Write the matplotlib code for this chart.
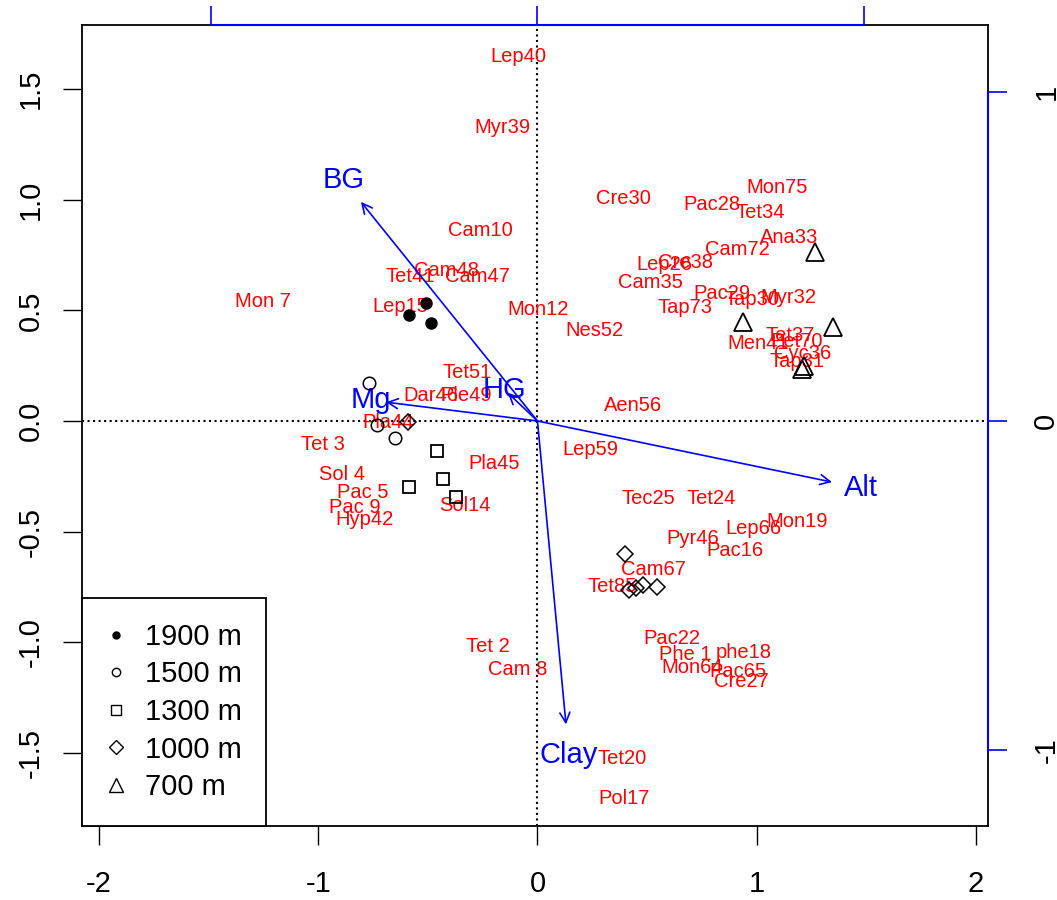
import numpy as np
import matplotlib
matplotlib.use('Agg')
import matplotlib.pyplot as plt
from matplotlib.lines import Line2D
from matplotlib import font_manager

# Font choice (Arial-like)
names = {f.name for f in font_manager.fontManager.ttflist}
fam = 'Liberation Sans' if 'Liberation Sans' in names else 'DejaVu Sans'
plt.rcParams['font.family'] = [fam, 'DejaVu Sans']

# Species scores (red labels)
species = ['Lep40', 'Myr39', 'Cre30', 'Mon75', 'Pac28', 'Tet34', 'Ana33', 'Cam72',
           'Cam10', 'Cam48', 'Tet41', 'Cam47', 'Mon 7', 'Lep15', 'Mon12', 'Nes52',
           'Lep26', 'Cre38', 'Cam35', 'Pac29', 'Tap30', 'Myr32', 'Tap73', 'Men41',
           'Tet37', 'Pet70', 'Cyc36', 'Tap31', 'Tet51', 'Dar46', 'Ple49', 'Pla44',
           'Tet 3', 'Sol 4', 'Pac 5', 'Pac 9', 'Hyp42', 'Pla45', 'Sol14', 'Lep59',
           'Aen56', 'Tec25', 'Tet24', 'Mon19', 'Lep66', 'Pyr46', 'Pac16', 'Cam67',
           'Tet85', 'Pac22', 'Phe 1', 'phe18', 'Mon64', 'Pac65', 'Cre27', 'Tet 2',
           'Cam 8', 'Tet20', 'Pol17']
spX = [-0.089, -0.162, 0.394, 1.092, 0.796, 1.015, 1.147, 0.910,
       -0.262, -0.417, -0.581, -0.276, -1.252, -0.627, 0.002, 0.258,
       0.577, 0.673, 0.513, 0.841, 0.978, 1.142, 0.673, 1.005,
       1.151, 1.183, 1.211, 1.183, -0.321, -0.486, -0.326, -0.682,
       -0.978, -0.892, -0.796, -0.832, -0.791, -0.198, -0.331, 0.239,
       0.435, 0.504, 0.791, 1.183, 0.987, 0.709, 0.901, 0.527,
       0.340, 0.613, 0.673, 0.942, 0.705, 0.914, 0.928, -0.226,
       -0.089, 0.385, 0.394]
spY = [1.645, 1.328, 1.003, 1.057, 0.976, 0.944, 0.831, 0.777,
       0.859, 0.682, 0.655, 0.651, 0.542, 0.515, 0.502, 0.407,
       0.705, 0.718, 0.624, 0.578, 0.547, 0.560, 0.511, 0.348,
       0.384, 0.361, 0.303, 0.267, 0.221, 0.113, 0.117, -0.009,
       -0.108, -0.244, -0.321, -0.393, -0.443, -0.190, -0.380, -0.131,
       0.072, -0.348, -0.348, -0.452, -0.484, -0.529, -0.587, -0.669,
       -0.750, -0.985, -1.057, -1.044, -1.112, -1.134, -1.175, -1.017,
       -1.125, -1.523, -1.704]

# Environmental arrows
envNames = ['BG', 'Mg', 'HG', 'Alt', 'Clay']
envX = [-0.805, -0.69, -0.135, 1.343, 0.130]
envY = [0.99, 0.085, 0.127, -0.276, -1.371]

# Sites grouped by altitude
x1900 = [-0.507, -0.586, -0.486]
y1900 = [0.534, 0.480, 0.443]
x1500 = [-0.768, -0.732, -0.650]
y1500 = [0.172, -0.018, -0.077]
x1300 = [-0.458, -0.431, -0.586, -0.372]
y1300 = [-0.136, -0.262, -0.299, -0.344]
x1000 = [-0.590, 0.399, 0.417, 0.481, 0.545, 0.449]
y1000 = [-0.005, -0.602, -0.765, -0.742, -0.751, -0.756]
x700 = [1.265, 0.937, 1.347, 1.215, 1.206]
y700 = [0.765, 0.448, 0.425, 0.249, 0.235]

legLabels = ['1900 m', '1500 m', '1300 m', '1000 m', '700 m']

# Plot
fig = plt.figure(figsize=(10.57, 9), dpi=100)
ax = fig.add_axes([0.0776, 0.0822, 0.857, 0.89])
xl = (-2.077, 2.054)
yl = (-1.830, 1.789)
ax.set_xlim(xl)
ax.set_ylim(yl)

ax.axhline(0, color='black', ls=':', lw=1.5, zorder=1)
ax.axvline(0, color='black', ls=':', lw=1.5, zorder=1)

for nm, x, y in zip(species, spX, spY):
    ax.text(x, y, nm, color='red', fontsize=14.5, ha='center', va='center', zorder=2)

for nm, x, y in zip(envNames, envX, envY):
    ax.annotate('', xy=(x, y), xytext=(0, 0),
                arrowprops=dict(arrowstyle='->', color='blue', lw=1.2,
                                shrinkA=0, shrinkB=0, mutation_scale=18), zorder=3)
    ax.text(x * 1.1, y * 1.1, nm, color='blue', fontsize=21, ha='center', va='center', zorder=3)

ax.plot(x1900, y1900, 'o', color='black', ms=8, ls='none', zorder=4)
ax.plot(x1500, y1500, 'o', mfc='none', mec='black', mew=1.1, ms=9, ls='none', zorder=4)
ax.plot(x1300, y1300, 's', mfc='none', mec='black', mew=1.3, ms=9, ls='none', zorder=4)
ax.plot(x1000, y1000, 'D', mfc='none', mec='black', mew=1.1, ms=8, ls='none', zorder=4)
ax.plot(x700, y700, '^', mfc='none', mec='black', mew=1.3, ms=13, ls='none', zorder=4)

ax.set_xticks([-2, -1, 0, 1, 2])
ax.set_xticklabels(['-2', '-1', '0', '1', '2'])
ax.set_yticks([-1.5, -1.0, -0.5, 0.0, 0.5, 1.0, 1.5])
ax.set_yticklabels(['-1.5', '-1.0', '-0.5', '0.0', '0.5', '1.0', '1.5'], rotation=90, va='center')
ax.tick_params(axis='both', labelsize=21, length=14, width=1, direction='out')
ax.tick_params(axis='x', pad=18)
ax.tick_params(axis='y', pad=13)
for s in ax.spines.values():
    s.set_linewidth(1.3)

# Secondary (loading) axes in blue
r = 0.672
axt = ax.twiny()
axt.set_xlim(xl[0] * r, xl[1] * r)
axt.set_xticks([-1, 0, 1])
axt.set_xticklabels([])
axt.tick_params(axis='x', colors='blue', length=14, width=1.2)
axt.spines['top'].set_bounds(-1, 1)
axt.spines['top'].set_color('blue')
axt.spines['top'].set_linewidth(1.5)
for s in ['bottom', 'left', 'right']:
    axt.spines[s].set_visible(False)

axr = ax.twinx()
axr.set_ylim(yl[0] * r, yl[1] * r)
axr.set_yticks([-1, 0, 1])
axr.set_yticklabels(['-1', '0', '1'], rotation=90, va='center')
axr.tick_params(axis='y', colors='blue', labelcolor='black', labelsize=21, length=14, width=1.2, pad=18)
axr.spines['right'].set_bounds(-1, 1)
axr.spines['right'].set_color('blue')
axr.spines['right'].set_linewidth(1.5)
for s in ['bottom', 'left', 'top']:
    axr.spines[s].set_visible(False)

# Legend
handles = [
    Line2D([], [], marker='o', color='black', ls='none', ms=5),
    Line2D([], [], marker='o', mfc='none', mec='black', ls='none', ms=6),
    Line2D([], [], marker='s', mfc='none', mec='black', ls='none', ms=7),
    Line2D([], [], marker='D', mfc='none', mec='black', ls='none', ms=7),
    Line2D([], [], marker='^', mfc='none', mec='black', ls='none', ms=10),
]
leg = axr.legend(handles, legLabels, loc='lower left', bbox_to_anchor=(0, 0),
                 borderaxespad=0, fontsize=21, fancybox=False, framealpha=1,
                 edgecolor='black', labelspacing=0.33, handletextpad=0.7,
                 borderpad=0.85, handlelength=0.6)
leg.get_frame().set_linewidth(1.3)

plt.savefig('out.png', dpi=100)
